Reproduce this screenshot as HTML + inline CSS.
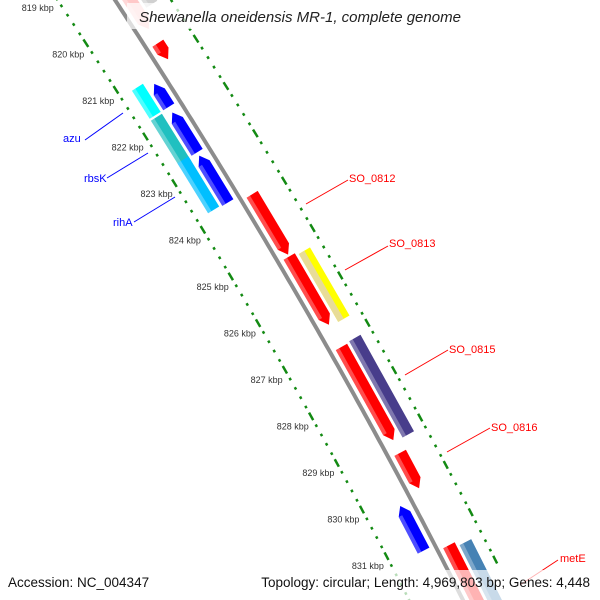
<!DOCTYPE html>
<html><head><meta charset="utf-8">
<style>
html,body{margin:0;padding:0;background:#fff;overflow:hidden;width:600px;height:600px;}
svg{display:block;overflow:hidden;font-family:"Liberation Sans","DejaVu Sans",sans-serif;}
</style></head>
<body>
<svg id="map" width="600" height="600" viewBox="0 0 600 600" xmlns="http://www.w3.org/2000/svg">
<defs><clipPath id="frame"><rect x="0" y="0" width="600" height="600"/></clipPath></defs>
<g clip-path="url(#frame)">
<g id="ticks"></g>
<g id="feats"></g>
<path id="backbone" fill="none" stroke="#8c8c8c" stroke-width="4"/>
<g id="labels">
<line x1="85" y1="140" x2="123" y2="113" stroke="#0000ff" stroke-width="1"/>
<text x="63" y="142" font-size="11" fill="#0000ff">azu</text>
<line x1="107" y1="178" x2="148" y2="153" stroke="#0000ff" stroke-width="1"/>
<text x="84" y="182" font-size="11" fill="#0000ff">rbsK</text>
<line x1="134" y1="222" x2="175" y2="197" stroke="#0000ff" stroke-width="1"/>
<text x="113" y="226" font-size="11" fill="#0000ff">rihA</text>
<line x1="306" y1="204" x2="348" y2="180" stroke="#ff0000" stroke-width="1"/>
<text x="349" y="182" font-size="11" fill="#ff0000">SO_0812</text>
<line x1="345" y1="270" x2="388" y2="246" stroke="#ff0000" stroke-width="1"/>
<text x="389" y="247" font-size="11" fill="#ff0000">SO_0813</text>
<line x1="405" y1="375" x2="448" y2="350" stroke="#ff0000" stroke-width="1"/>
<text x="449" y="353" font-size="11" fill="#ff0000">SO_0815</text>
<line x1="447" y1="452" x2="490" y2="428" stroke="#ff0000" stroke-width="1"/>
<text x="491" y="431" font-size="11" fill="#ff0000">SO_0816</text>
<line x1="520" y1="585" x2="558" y2="560" stroke="#ff0000" stroke-width="1"/>
<text x="560" y="562" font-size="11" fill="#ff0000">metE</text>
</g>
<rect x="127" y="3" width="346" height="26" fill="#fff" fill-opacity="0.7"/>
<text x="300" y="22" font-size="15" font-style="italic" text-anchor="middle" fill="#222">Shewanella oneidensis MR-1, complete genome</text>
<rect x="0" y="570" width="600" height="30" fill="#fff" fill-opacity="0.7"/>
<text x="8" y="587" font-size="13.5" fill="#111">Accession: NC_004347</text>
<text x="590" y="587" font-size="13.5" fill="#111" text-anchor="end">Topology: circular; Length: 4,969,803 bp; Genes: 4,448</text>
</g>
</svg>
<script>
// feature data (kbp)
const featStart = [819.43, 820.70, 823.91, 825.23, 827.15, 829.40, 831.36, 819.2, 825.28, 827.13, 831.45, 821.28, 821.89, 822.81, 830.28, 821.17, 821.81, 822.72];
const featEnd   = [820.40, 821.04, 825.19, 826.68, 829.13, 830.15, 833.47, 820.06, 826.72, 829.17, 833.5, 821.77, 822.74, 823.81, 831.23, 821.77, 822.83, 823.79];
const featRing  = [1,1,1,1,1,1,1, 2,2,2,2, -1,-1,-1,-1, -2,-2,-2];
const featColor = ["#ffc8c8","#ff0000","#ff0000","#ff0000","#ff0000","#ff0000","#ff0000","#d0d0d0","#ffff00","#483d8b","#4682b4","#0000ff","#0000ff","#0000ff","#0000ff","#00ffff","#20c0c0","#00bfff"];
const featArrow = [1,1,1,1,1,1,1, 0,0,0,0, 1,1,1,1, 0,0,0];
const tickMajor = [819,820,821,822,823,824,825,826,827,828,829,830,831];

const NS="http://www.w3.org/2000/svg";
function bx(y){return 115+0.6547*y-0.0001246*y*y;}
function yOf(k){return 205+(k-824)*47;}
function pt(k,d){const y=yOf(k);const x=bx(y);const dx=bx(y+10)-bx(y-10),dy=20;const L=Math.hypot(dx,dy);const nx=dy/L,ny=-dx/L;return [x+nx*d,y+ny*d];}
let bp="";for(let y=-30;y<=620;y+=5){bp+=(y===-30?"M":"L")+bx(y).toFixed(1)+","+y+" ";}
document.getElementById("backbone").setAttribute("d",bp);
const ringD={1:[6,19],2:[22,35],"-1":[-19,-6],"-2":[-35,-22]};
const fg=document.getElementById("feats");
function poly(pts,fill,op){const p=document.createElementNS(NS,"polygon");p.setAttribute("points",pts.map(q=>q[0].toFixed(1)+","+q[1].toFixed(1)).join(" "));p.setAttribute("fill",fill);if(op)p.setAttribute("fill-opacity",op);return p;}
for(let i=0;i<featStart.length;i++){
  const [d1,d2]=ringD[featRing[i]];const s=featStart[i],e=featEnd[i];const dm=(d1+d2)/2;
  const ah=featArrow[i]?0.17:0;let pts;
  if(featRing[i]>0){pts=[pt(s,d1),pt(s,d2),pt(e-ah,d2),pt(e,dm),pt(e-ah,d1)];}
  else {pts=[pt(e,d1),pt(e,d2),pt(s+ah,d2),pt(s,dm),pt(s+ah,d1)];}
  const g=document.createElementNS(NS,"g");
  
  
  g.appendChild(poly(pts,featColor[i]));
  const h1=d1,h2=d1+4;
  const hs=featRing[i]>0?[pt(s,h1),pt(s,h2),pt(e-ah,h2),pt(e-ah,h1)]:[pt(e,h1),pt(e,h2),pt(s+ah,h2),pt(s+ah,h1)];
  g.appendChild(poly(hs,"#ffffff",featColor[i]==="#ffff00"?"0":"0.3"));
  if(featColor[i]==="#ffff00"){g.appendChild(poly([pt(s,d1),pt(s,dm),pt(e,dm),pt(e,d1)],"#e8dc98"));}
  fg.appendChild(g);
}
const tg=document.getElementById("ticks");
for(let j=818*5;j<=832*5;j++){
  const k=j/5;const major=(j%5===0);
  [-48,47].forEach(d=>{
    const a=pt(k-(major?0.08:0.025),d),b=pt(k+(major?0.08:0.025),d);
    const l=document.createElementNS(NS,"line");
    
    
    l.setAttribute("x1",a[0]);l.setAttribute("y1",a[1]);l.setAttribute("x2",b[0]);l.setAttribute("y2",b[1]);
    l.setAttribute("stroke","#138a13");l.setAttribute("stroke-width",2.5);
    tg.appendChild(l);
  });
}
tickMajor.forEach(k=>{
  const p=pt(k,-69);const t=document.createElementNS(NS,"text");
  
  
  t.setAttribute("x",p[0]);t.setAttribute("y",p[1]+3);t.setAttribute("text-anchor","middle");
  t.setAttribute("font-size","9");t.setAttribute("fill","#333");t.textContent=k+" kbp";tg.appendChild(t);
});
</script>
</body></html>
